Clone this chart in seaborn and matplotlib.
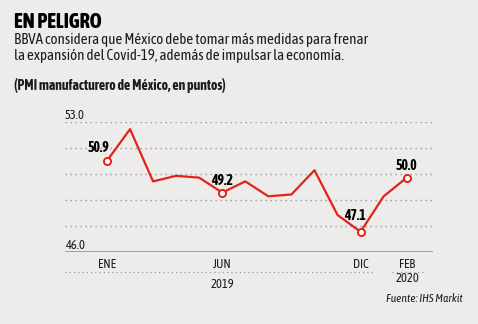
import matplotlib
matplotlib.use("Agg")
import matplotlib.pyplot as plt
from matplotlib.lines import Line2D
import seaborn as sns
import pandas as pd

# Mexico manufacturing PMI, Jan 2019 - Feb 2020
months = ["ENE", "FEB", "MAR", "ABR", "MAY", "JUN", "JUL", "AGO",
          "SEP", "OCT", "NOV", "DIC", "ENE", "FEB"]
pmi = [50.9, 52.6, 49.8, 50.1, 50.0, 49.2, 49.8, 49.0,
       49.1, 50.4, 48.0, 47.1, 49.0, 50.0]
tick_labels = {0: "ENE", 5: "JUN", 11: "DIC", 13: "FEB"}
highlight = [0, 5, 11, 13]
y_labels = ["53.0", "46.0"]
grid_levels = [53.0, 51.6, 50.2, 48.8, 47.4]

df = pd.DataFrame({"idx": range(len(pmi)), "mes": months, "pmi": pmi})

sns.set_theme(style="white")
plt.rcParams["font.family"] = ["Asap Condensed", "DejaVu Sans"]

BG = "#edeceb"
RED = "#e2231a"
INK = "#1c1c1c"
W, H = 478, 324
fig = plt.figure(figsize=(W / 100, H / 100), dpi=100, facecolor=BG)

def fx(px):
    return px / W

def fy(py):
    return 1 - py / H

ax = fig.add_axes([fx(65), fy(252.3), fx(433) - fx(65), fy(121.7) - fy(252.3)])
ax.set_facecolor(BG)
x0 = -1.82
x1 = 14.14
ax.set_xlim(x0, x1)
ax.set_ylim(46, 53)

for lv in grid_levels:
    ax.axhline(lv, color="#9a9a9a", lw=1.0, ls=(0, (1, 2.6)), zorder=1)
ax.axhline(46, color="#9c9c9c", lw=1.4, zorder=1)

sns.lineplot(data=df, x="idx", y="pmi", ax=ax, color=RED, lw=1.6, zorder=3)
hl = df.iloc[highlight]
ax.scatter(hl["idx"], hl["pmi"], s=26, facecolor="white", edgecolor=RED,
           linewidth=1.4, zorder=4)

offsets = {0: (-6, 4), 5: (0, 3.5), 11: (-4, 6), 13: (0, 3.5)}
for i in highlight:
    dx, dy = offsets[i]
    ax.annotate(f"{pmi[i]:.1f}", (i, pmi[i]), xytext=(dx, dy),
                textcoords="offset points", ha="center", va="bottom",
                fontsize=10, fontweight="bold", color="black", zorder=5)

for lab in y_labels:
    ax.text(x0, float(lab), lab, ha="left", va="bottom", fontsize=9,
            color=INK)

for s in ax.spines.values():
    s.set_visible(False)
ax.set_xticks([])
ax.set_yticks([])
ax.set_xlabel("")
ax.set_ylabel("")

# month ticks below the axis
for i, lab in tick_labels.items():
    xp = ax.transData.transform((i, 46))[0] / W
    fig.text(xp, fy(265), lab, ha="center", va="center", fontsize=9,
             color=INK)

fig.add_artist(Line2D([fx(65), fx(375)], [fy(271.7)] * 2, color="#9a9a9a",
                      lw=0.9, ls=(0, (1, 2.4))))
fig.add_artist(Line2D([fx(392), fx(423)], [fy(271.7)] * 2, color="#9a9a9a",
                      lw=0.9, ls=(0, (1, 2.4))))
fig.text(fx(222), fy(285), "2019", ha="center", va="center", fontsize=9,
         color=INK)
fig.text(fx(407), fy(278), "2020", ha="center", va="center", fontsize=9,
         color=INK)
fig.text(fx(463), fy(299), "Fuente: IHS Markit", ha="right", va="center",
         fontsize=8.3, style="italic", color=INK)

fig.text(fx(14), fy(22), "EN PELIGRO", ha="left", va="center", fontsize=14.5,
         fontweight="heavy", color="black")
fig.text(fx(14), fy(40), "BBVA considera que México debe tomar más medidas para frenar",
         ha="left", va="center", fontsize=10.8, color=INK)
fig.text(fx(14), fy(56), "la expansión del Covid-19, además de impulsar la economía.",
         ha="left", va="center", fontsize=10.8, color=INK)
fig.text(fx(14), fy(85), "(PMI manufacturero de México, en puntos)",
         ha="left", va="center", fontsize=10, fontweight="bold", color=INK)

fig.savefig("out.png", dpi=100, facecolor=BG)
